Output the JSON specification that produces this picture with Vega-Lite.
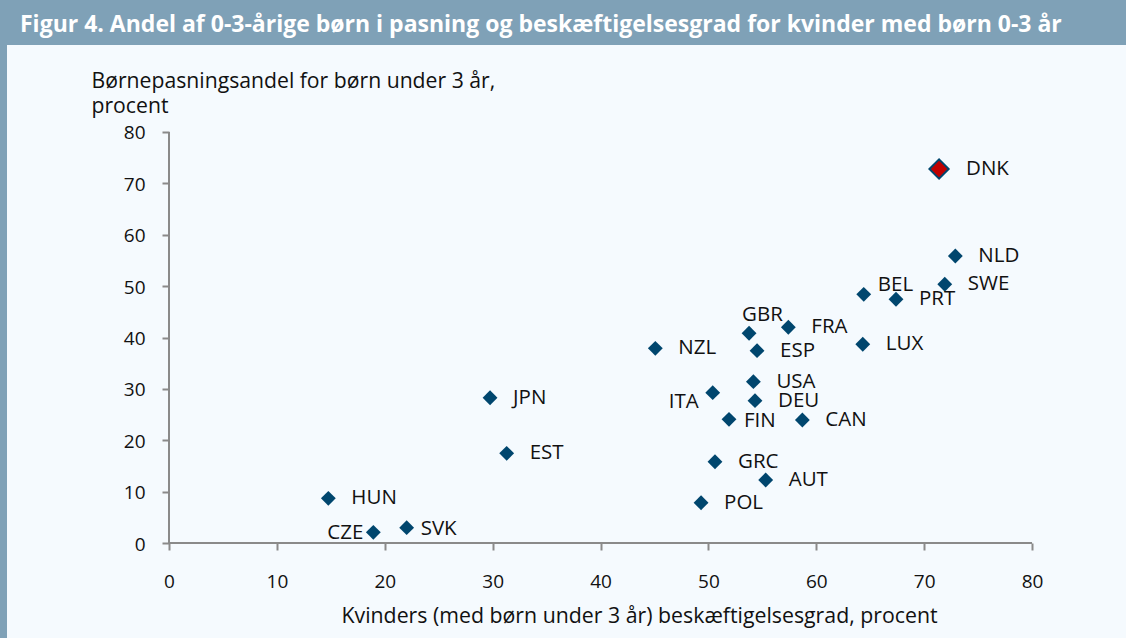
{
  "$schema": "https://vega.github.io/schema/vega-lite/v6.json",
  "width": 1119,
  "height": 593,
  "autosize": {"type": "none"},
  "padding": {"left": 7, "top": 45, "right": 0, "bottom": 0},
  "background": "#7FA1B7",
  "title": {
    "text": "Figur 4. Andel af 0-3-årige børn i pasning og beskæftigelsesgrad for kvinder med børn 0-3 år",
    "anchor": "start",
    "frame": "group",
    "dx": 13,
    "offset": -10,
    "baseline": "alphabetic",
    "color": "#ffffff",
    "font": "Open Sans",
    "fontSize": 23,
    "fontWeight": "bold"
  },
  "config": {
    "view": {"fill": "#F5FAFE", "stroke": null}
  },
  "datasets": {
    "akser": [
      {"x0": 0, "x1": 80, "y0": 0, "y1": 0},
      {"x0": 0, "x1": 0, "y0": 0, "y1": 80}
    ]
  },
  "data": {
    "values": [
      {"land": "DNK", "beskaeftigelse": 71.38, "boernepasning": 72.8},
      {"land": "NLD", "beskaeftigelse": 72.89, "boernepasning": 55.86},
      {"land": "SWE", "beskaeftigelse": 71.91, "boernepasning": 50.36},
      {"land": "BEL", "beskaeftigelse": 64.4, "boernepasning": 48.41},
      {"land": "PRT", "beskaeftigelse": 67.39, "boernepasning": 47.44},
      {"land": "GBR", "beskaeftigelse": 53.77, "boernepasning": 40.82},
      {"land": "FRA", "beskaeftigelse": 57.41, "boernepasning": 41.99},
      {"land": "NZL", "beskaeftigelse": 45.08, "boernepasning": 37.9},
      {"land": "ESP", "beskaeftigelse": 54.51, "boernepasning": 37.43},
      {"land": "LUX", "beskaeftigelse": 64.31, "boernepasning": 38.68},
      {"land": "USA", "beskaeftigelse": 54.17, "boernepasning": 31.4},
      {"land": "ITA", "beskaeftigelse": 50.4, "boernepasning": 29.26},
      {"land": "DEU", "beskaeftigelse": 54.32, "boernepasning": 27.7},
      {"land": "FIN", "beskaeftigelse": 51.91, "boernepasning": 24.08},
      {"land": "CAN", "beskaeftigelse": 58.71, "boernepasning": 23.94},
      {"land": "JPN", "beskaeftigelse": 29.76, "boernepasning": 28.28},
      {"land": "EST", "beskaeftigelse": 31.3, "boernepasning": 17.46},
      {"land": "GRC", "beskaeftigelse": 50.61, "boernepasning": 15.82},
      {"land": "AUT", "beskaeftigelse": 55.31, "boernepasning": 12.26},
      {"land": "POL", "beskaeftigelse": 49.32, "boernepasning": 7.84},
      {"land": "HUN", "beskaeftigelse": 14.77, "boernepasning": 8.7},
      {"land": "CZE", "beskaeftigelse": 18.94, "boernepasning": 2.08},
      {"land": "SVK", "beskaeftigelse": 22.03, "boernepasning": 2.98}
    ]
  },
  "encoding": {
    "x": {
      "field": "beskaeftigelse",
      "type": "quantitative",
      "scale": {"domain": [-15.017, 88.71], "nice": false, "zero": false},
      "axis": {
        "values": [0, 10, 20, 30, 40, 50, 60, 70, 80],
        "domain": false,
        "grid": false,
        "ticks": true,
        "tickSize": 7,
        "tickWidth": 2,
        "tickColor": "#8A8A8A",
        "offset": -95,
        "labelFont": "Open Sans",
        "labelFontSize": 19,
        "labelColor": "#111111",
        "labelPadding": 37,
        "labelBaseline": "alphabetic",
        "labelFlush": false,
        "labelOverlap": false,
        "title": "Kvinders (med børn under 3 år) beskæftigelsesgrad, procent",
        "titleX": 334,
        "titleY": 79,
        "titleAlign": "left",
        "titleAnchor": null,
        "titleBaseline": "alphabetic",
        "titleFont": "Open Sans",
        "titleFontSize": 21.3,
        "titleFontWeight": "normal",
        "titleColor": "#111111"
      }
    },
    "y": {
      "field": "boernepasning",
      "type": "quantitative",
      "scale": {"domain": [-18.49, 96.934], "nice": false, "zero": false},
      "axis": {
        "values": [0, 10, 20, 30, 40, 50, 60, 70, 80],
        "domain": false,
        "grid": false,
        "ticks": true,
        "tickSize": 7,
        "tickWidth": 2,
        "tickColor": "#8A8A8A",
        "offset": -162,
        "labelFont": "Open Sans",
        "labelFontSize": 19,
        "labelColor": "#111111",
        "labelPadding": 17,
        "labelBaseline": "alphabetic",
        "labelOffset": 7,
        "labelFlush": false,
        "labelOverlap": false,
        "title": ["Børnepasningsandel for børn under 3 år,", "procent"],
        "titleAngle": 0,
        "titleX": -78,
        "titleY": 42,
        "titleAlign": "left",
        "titleAnchor": null,
        "titleBaseline": "alphabetic",
        "titleLineHeight": 25,
        "titleFont": "Open Sans",
        "titleFontSize": 21.2,
        "titleFontWeight": "normal",
        "titleColor": "#111111"
      }
    }
  },
  "layer": [
    {
      "data": {"name": "akser"},
      "mark": {"type": "rule", "color": "#8A8A8A", "strokeWidth": 2},
      "encoding": {
        "x": {"field": "x0", "type": "quantitative"},
        "x2": {"field": "x1"},
        "y": {"field": "y0", "type": "quantitative"},
        "y2": {"field": "y1"}
      }
    },
    {
      "transform": [{"filter": "datum.land !== 'DNK'"}],
      "mark": {"type": "point", "shape": "diamond", "filled": true, "size": 220, "color": "#00466E", "opacity": 1}
    },
    {
      "transform": [{"filter": "datum.land === 'DNK'"}],
      "mark": {"type": "point", "shape": "diamond", "filled": true, "size": 370, "fill": "#C00000", "stroke": "#00466E", "strokeWidth": 2, "opacity": 1}
    },
    {
      "transform": [{"filter": {"field": "land", "oneOf": ["NLD", "SWE", "PRT", "FRA", "NZL", "ESP", "LUX", "USA", "DEU", "CAN", "JPN", "EST", "GRC", "AUT", "POL", "HUN"]}}],
      "mark": {"type": "text", "align": "left", "baseline": "middle", "dx": 23, "font": "Open Sans", "fontSize": 20.5, "color": "#111111"},
      "encoding": {"text": {"field": "land"}}
    },
    {
      "transform": [{"filter": {"field": "land", "equal": "DNK"}}],
      "mark": {"type": "text", "align": "left", "baseline": "middle", "dx": 27, "font": "Open Sans", "fontSize": 20.5, "color": "#111111"},
      "encoding": {"text": {"field": "land"}}
    },
    {
      "transform": [{"filter": {"field": "land", "equal": "BEL"}}],
      "mark": {"type": "text", "align": "left", "baseline": "middle", "dx": 14, "dy": -9, "font": "Open Sans", "fontSize": 20.5, "color": "#111111"},
      "encoding": {"text": {"field": "land"}}
    },
    {
      "transform": [{"filter": {"field": "land", "equal": "GBR"}}],
      "mark": {"type": "text", "align": "left", "baseline": "middle", "dx": -7, "dy": -18, "font": "Open Sans", "fontSize": 20.5, "color": "#111111"},
      "encoding": {"text": {"field": "land"}}
    },
    {
      "transform": [{"filter": {"field": "land", "equal": "ITA"}}],
      "mark": {"type": "text", "align": "right", "baseline": "middle", "dx": -14, "dy": 9, "font": "Open Sans", "fontSize": 20.5, "color": "#111111"},
      "encoding": {"text": {"field": "land"}}
    },
    {
      "transform": [{"filter": {"field": "land", "equal": "FIN"}}],
      "mark": {"type": "text", "align": "left", "baseline": "middle", "dx": 15, "dy": 2, "font": "Open Sans", "fontSize": 20.5, "color": "#111111"},
      "encoding": {"text": {"field": "land"}}
    },
    {
      "transform": [{"filter": {"field": "land", "equal": "CZE"}}],
      "mark": {"type": "text", "align": "right", "baseline": "middle", "dx": -10, "dy": 1, "font": "Open Sans", "fontSize": 20.5, "color": "#111111"},
      "encoding": {"text": {"field": "land"}}
    },
    {
      "transform": [{"filter": {"field": "land", "equal": "SVK"}}],
      "mark": {"type": "text", "align": "left", "baseline": "middle", "dx": 14, "dy": 1, "font": "Open Sans", "fontSize": 20.5, "color": "#111111"},
      "encoding": {"text": {"field": "land"}}
    }
  ]
}
